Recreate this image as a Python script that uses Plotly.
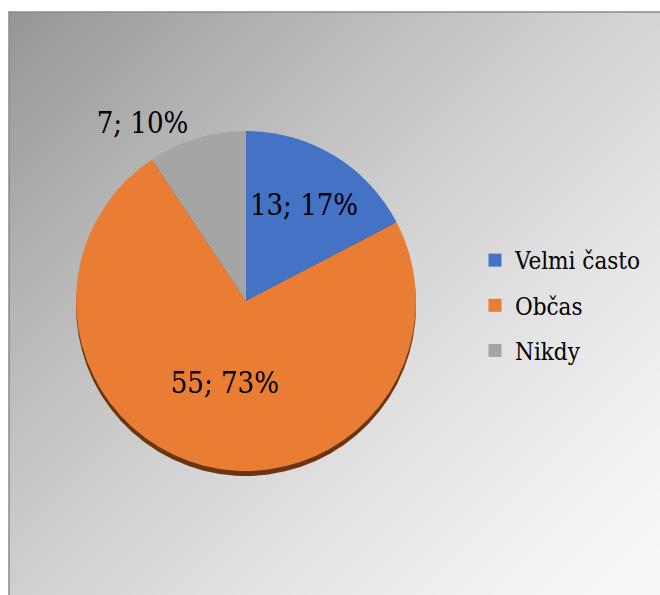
import base64
import struct
import zlib

import numpy as np
import plotly.graph_objects as go

# Survey answers
categories = ["Velmi často", "Občas", "Nikdy"]
counts = [13, 55, 7]
percent_labels = [17, 73, 10]
slice_colors = ["#4472C4", "#E97D34", "#A5A5A5"]
rim_colors = ["#2B4A80", "#6A3510", "#606060"]
label_positions = ["inside", "inside", "outside"]

W, H = 660, 595
FONT = "DejaVu Serif Condensed, DejaVu Serif"


def px_x(v):
    return v / W


def px_y(v):
    return 1 - v / H


def gradient_png(w, h):
    """Diagonal grey gradient, dark at top-left, almost white at bottom-right."""
    xs = np.arange(w)[None, :]
    ys = np.arange(h)[:, None]
    t = (xs + ys) / (w + h - 2)
    val = 248 - 98 * (1 - t) ** 1.4
    img = np.clip(val, 0, 255).astype(np.uint8)
    rgb = np.repeat(img[:, :, None], 3, axis=2)
    raw = b"".join(b"\x00" + rgb[r].tobytes() for r in range(h))

    def chunk(tag, data):
        c = struct.pack(">I", len(data)) + tag + data
        return c + struct.pack(">I", zlib.crc32(tag + data) & 0xFFFFFFFF)

    png = b"\x89PNG\r\n\x1a\n"
    png += chunk(b"IHDR", struct.pack(">IIBBBBB", w, h, 8, 2, 0, 0, 0))
    png += chunk(b"IDAT", zlib.compress(raw, 9))
    png += chunk(b"IEND", b"")
    return "data:image/png;base64," + base64.b64encode(png).decode()


# pie geometry (pixels)
cx, cy, r = 246, 301, 170
rim_drop = 5

fig = go.Figure()

# darker rim under the pie gives the slight 3-D edge
fig.add_trace(go.Pie(
    labels=categories, values=counts, sort=False, direction="clockwise",
    rotation=0, marker=dict(colors=rim_colors, line=dict(width=0)),
    textinfo="none", hoverinfo="skip", showlegend=False,
    domain=dict(x=[px_x(cx - r), px_x(cx + r)],
                y=[px_y(cy + r + rim_drop), px_y(cy - r + rim_drop)]),
))

fig.add_trace(go.Pie(
    labels=categories, values=counts, sort=False, direction="clockwise",
    rotation=0, marker=dict(colors=slice_colors, line=dict(width=0)),
    customdata=percent_labels,
    texttemplate="%{value}; %{customdata}%",
    textposition=label_positions,
    insidetextorientation="horizontal",
    textfont=dict(family=FONT, size=29, color="black"),
    outsidetextfont=dict(family=FONT, size=29, color="black"),
    insidetextfont=dict(family=FONT, size=29, color="black"),
    showlegend=False,
    domain=dict(x=[px_x(cx - r), px_x(cx + r)],
                y=[px_y(cy + r), px_y(cy - r)]),
))

# legend entries, one group each so the rows can be spaced apart
for name, col in zip(categories, slice_colors):
    fig.add_trace(go.Scatter(
        x=[None], y=[None], mode="markers", name=name, legendgroup=name,
        marker=dict(symbol="square", size=13, color=col),
        hoverinfo="skip",
    ))

fig.update_layout(
    width=W, height=H,
    margin=dict(l=0, r=0, t=0, b=0),
    paper_bgcolor="white",
    plot_bgcolor="rgba(0,0,0,0)",
    font=dict(family=FONT, color="black"),
    xaxis=dict(visible=False),
    yaxis=dict(visible=False),
    showlegend=True,
    legend=dict(
        x=px_x(475), y=px_y(238), xanchor="left", yanchor="top",
        font=dict(family=FONT, size=24, color="black"),
        bgcolor="rgba(0,0,0,0)", tracegroupgap=11,
        itemclick=False, itemdoubleclick=False,
    ),
    images=[dict(
        source=gradient_png(W - 9, H - 12),
        xref="paper", yref="paper",
        x=px_x(9), y=px_y(12), sizex=(W - 9) / W, sizey=(H - 12) / H,
        xanchor="left", yanchor="top", sizing="stretch", layer="below",
    )],
    shapes=[dict(
        type="rect", xref="paper", yref="paper",
        x0=px_x(9), x1=1.02, y0=-0.02, y1=px_y(12),
        line=dict(color="#8A8A8A", width=1.5), fillcolor="rgba(0,0,0,0)",
    )],
)

fig.write_html("out.html")
